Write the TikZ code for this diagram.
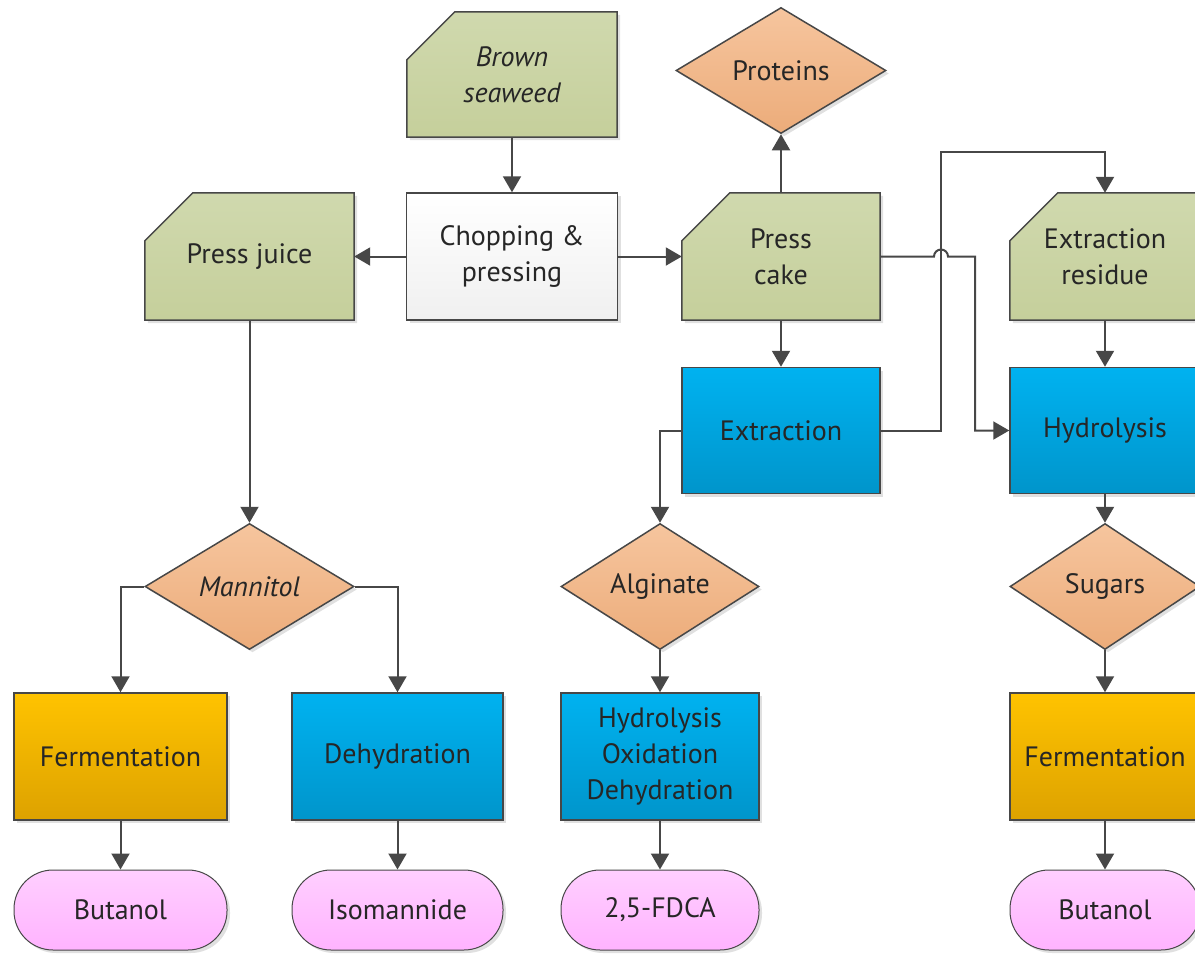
\documentclass[tikz,border=0pt]{standalone}
\usepackage{fontspec}
\setmainfont{PT Sans}
\usetikzlibrary{shapes.geometric,shadows,arrows.meta,backgrounds}

\definecolor{lineclr}{HTML}{474747}
\definecolor{greentop}{HTML}{D0D9AE}
\definecolor{greenbot}{HTML}{C5CF9B}
\definecolor{bluetop}{HTML}{00B2F0}
\definecolor{bluebot}{HTML}{0095CB}
\definecolor{orangetop}{HTML}{FFC300}
\definecolor{orangebot}{HTML}{DDA200}
\definecolor{peachtop}{HTML}{F6C59E}
\definecolor{peachbot}{HTML}{ECAC7A}
\definecolor{pinktop}{HTML}{FFCFFF}
\definecolor{pinkbot}{HTML}{FFB3FF}

\begin{document}
\begin{tikzpicture}[x=1pt,y=-1pt,
   font=\fontsize{28}{36}\selectfont,
   base/.style={draw=lineclr,line width=1.5pt,align=center,inner sep=2pt,text=black!85,
      drop shadow={shadow xshift=3pt,shadow yshift=-3pt,fill=black,opacity=0.12}},
   datanode/.style={rectangle,align=center,inner sep=2pt,text=black!85,minimum height=127pt},
   datashape/.style={draw=lineclr,line width=1.5pt,top color=greentop,bottom color=greenbot,
      drop shadow={shadow xshift=3pt,shadow yshift=-3pt,fill=black,opacity=0.12}},
   procnode/.style={base,rectangle,top color=bluetop,bottom color=bluebot,
      minimum height=126pt},
   fermnode/.style={base,rectangle,top color=orangetop,bottom color=orangebot,
      minimum height=127pt},
   prodnode/.style={base,diamond,top color=peachtop,bottom color=peachbot,
      inner sep=0pt,aspect=1.7,minimum height=126pt},
   endnode/.style={base,rectangle,rounded corners=39pt,line width=1pt,
      top color=pinktop,bottom color=pinkbot,minimum height=80pt},
   flow/.style={draw=lineclr,line width=2pt,-{Triangle[length=16pt,width=18pt]}}
]
\useasboundingbox (0,0) rectangle (1195,956);

% top row
\node[datanode,minimum width=210pt,minimum height=125pt,font=\fontsize{28}{36}\selectfont\itshape] (weed) at (512,74.5) {Brown\\seaweed};
\node[base,rectangle,top color=white,bottom color=black!6,minimum width=211pt,minimum height=127pt] (chop) at (512,256.5) {Chopping \&\\pressing};
\node[datanode,minimum width=209pt] (juice) at (249.5,256.5) {Press juice};
\node[datanode,minimum width=198pt] (cake) at (781,256.5) {Press\\cake};
\node[prodnode,minimum width=210pt] (prot) at (781,70.5) {Proteins};
\node[datanode,minimum width=190pt] (res) at (1105,256.5) {Extraction\\residue};

\begin{pgfonlayer}{background}
  \foreach \n in {weed,juice,cake,res}
    \path[datashape] (\n.south west) -- ([yshift=-48pt]\n.north west)
      -- ([xshift=48pt]\n.north west) -- (\n.north east) -- (\n.south east) -- cycle;
\end{pgfonlayer}

% middle
\node[procnode,minimum width=198pt] (extr) at (781,430.5) {Extraction};
\node[procnode,minimum width=190pt] (hydr) at (1105,430.5) {Hydrolysis};
\node[prodnode,minimum width=209pt,font=\fontsize{28}{36}\selectfont\itshape] (mann) at (249.5,586.5) {Mannitol};
\node[prodnode,minimum width=198pt] (alg) at (660,586.5) {Alginate};
\node[prodnode,minimum width=190pt] (sug) at (1105,586.5) {Sugars};

% bottom rows
\node[fermnode,minimum width=213pt] (fermA) at (120.5,756.5) {Fermentation};
\node[procnode,minimum width=211pt,minimum height=127pt] (dehyd) at (397.5,756.5) {Dehydration};
\node[procnode,minimum width=198pt,minimum height=127pt] (hod) at (660,756.5) {Hydrolysis\\Oxidation\\Dehydration};
\node[fermnode,minimum width=190pt] (fermB) at (1105,756.5) {Fermentation};
\node[endnode,minimum width=213pt] (butA) at (120.5,910) {Butanol};
\node[endnode,minimum width=211pt] (iso) at (397.5,910) {Isomannide};
\node[endnode,minimum width=198pt] (fdca) at (660,910) {2,5-FDCA};
\node[endnode,minimum width=190pt] (butB) at (1105,910) {Butanol};

\coordinate (turn) at (941,152);
\coordinate (drop) at (975,255);

\draw[flow] (weed) -- (chop);
\draw[flow] (chop.west) -- (chop.west -| juice.east);
\draw[flow] (chop.east) -- (chop.east -| cake.west);
\draw[flow] (cake) -- (prot);
\draw[flow] (cake) -- (extr);
\draw[flow] (juice) -- (mann);
\draw[flow] (mann.west) -| (fermA);
\draw[flow] (mann.east) -| (dehyd);
\draw[flow] (extr.west) -| (alg);
\draw[flow] (extr.east) -| (turn) -| (res);
\draw[flow] (cake.east) -- ([xshift=-7pt]cake.east -| turn)
   arc[start angle=180,end angle=0,radius=7pt] -- (cake.east -| drop) |- (hydr.west);
\draw[flow] (res) -- (hydr);
\draw[flow] (hydr) -- (sug);
\draw[flow] (sug) -- (fermB);
\draw[flow] (alg) -- (hod);
\draw[flow] (fermA) -- (butA);
\draw[flow] (dehyd) -- (iso);
\draw[flow] (hod) -- (fdca);
\draw[flow] (fermB) -- (butB);
\end{tikzpicture}
\end{document}
